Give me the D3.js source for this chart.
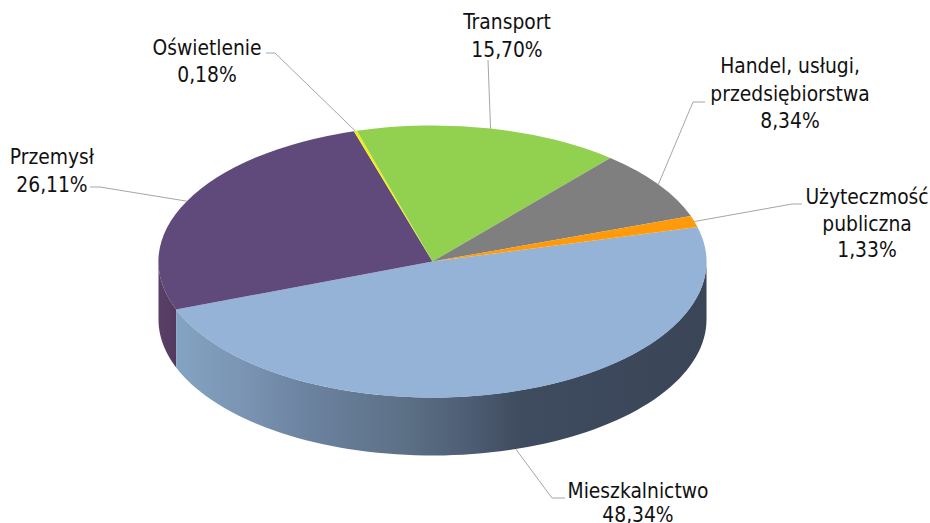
<!DOCTYPE html>
<html><head><meta charset="utf-8">
<script src="https://cdn.jsdelivr.net/npm/d3@7/dist/d3.min.js"></script>
<style>html,body{margin:0;padding:0;background:#fff;overflow:hidden}
text{font-family:"DejaVu Sans",sans-serif;font-size:20.8px;fill:#111;font-stretch:condensed}</style>
</head><body><svg id="c" width="930" height="523"></svg>
<script>
const categories=["Mieszkalnictwo","Przemysł","Oświetlenie","Transport","Handel, usługi, przedsiębiorstwa","Użyteczmość publiczna"];
const values=[48.34,26.11,0.18,15.70,8.34,1.33];
const valueLabels=["48,34%","26,11%","0,18%","15,70%","8,34%","1,33%"];
const labelLines=[["Mieszkalnictwo"],["Przemysł"],["Oświetlenie"],["Transport"],["Handel, usługi,","przedsiębiorstwa"],["Użyteczmość","publiczna"]];
const colors=["#95B3D7","#604A7B","#F2EC1A","#92D050","#7F7F7F","#FF9A0A"];
const wallColors=["#3B4759","#54395F"];
const startDeg=75.3;

const rad=d=>d*Math.PI/180;
const px=d3.scaleLinear().domain([-1,1]).range([158.5,706.5]);
const py=d3.scaleLinear().domain([-1,1]).range([125.5,397.5]);
const depth=58;
const svg=d3.select("#c");
const pie=d3.pie().sort(null).startAngle(rad(startDeg)).endAngle(rad(startDeg+360));
const arcs=pie(values);
const ptX=a=>px(Math.sin(a)), ptY=a=>py(-Math.cos(a));

const gradStops=[[176,"#84A3C2"],[240,"#7B95B4"],[310,"#6B829F"],[400,"#5D7187"],[470,"#4D5D74"],[520,"#3F4B5E"],[706,"#3A4658"]];
const defs=svg.append("defs");
const g=defs.append("linearGradient").attr("id","wall").attr("gradientUnits","userSpaceOnUse")
 .attr("x1",176).attr("x2",706).attr("y1",0).attr("y2",0);
g.selectAll("stop").data(gradStops).join("stop")
 .attr("offset",d=>(d[0]-176)/530).attr("stop-color",d=>d[1]);
const g2=defs.append("linearGradient").attr("id","wallP").attr("gradientUnits","userSpaceOnUse")
 .attr("x1",158).attr("x2",176).attr("y1",0).attr("y2",0);
g2.append("stop").attr("offset",0).attr("stop-color","#5A4068");
g2.append("stop").attr("offset",1).attr("stop-color",wallColors[1]);

const wallArea=d3.area().x(a=>ptX(a)).y0(a=>ptY(a)).y1(a=>ptY(a)+depth);
function wallRange(a0,a1,fill){
  const lo=Math.max(a0,Math.PI/2), hi=Math.min(a1,Math.PI*1.5);
  if(hi<=lo)return;
  const n=80, as=d3.range(n+1).map(i=>lo+(hi-lo)*i/n);
  svg.append("path").attr("d",wallArea(as)).attr("fill",fill);
}
wallRange(arcs[1].startAngle,arcs[1].endAngle,"url(#wallP)");
wallRange(arcs[0].startAngle,arcs[0].endAngle,"url(#wall)");

const arcGen=d3.arc().innerRadius(0).outerRadius(1);
const face=svg.append("g")
 .attr("transform",`translate(${px(0)},${py(0)}) scale(${px(1)-px(0)},${py(1)-py(0)})`);
face.selectAll("path").data(arcs).join("path").attr("d",arcGen).attr("fill",(d,i)=>colors[i]);

const layout=[
 {tx:638,ty:[498,522],bend:[552,498],end:[565,498],side:true},
 {tx:52,ty:[164,192],bend:[100,187],end:[90,187],side:false},
 {tx:207,ty:[55,82],bend:[275,53],end:[266,53],side:false},
 {tx:507,ty:[29,57],bend:[488,60],end:[488,60],side:false},
 {tx:790,ty:[73,101,128],bend:[693,102],end:[705,102],side:false},
 {tx:867,ty:[204,231,257],bend:[792,204],end:[802,204],side:false}
];
const line=d3.line();
arcs.forEach((d,i)=>{
  const m=(d.startAngle+d.endAngle)/2, L=layout[i];
  const s=[ptX(m),ptY(m)+(L.side?depth:0)];
  svg.append("path").attr("d",line([s,L.bend,L.end])).attr("fill","none").attr("stroke","#A6A6A6").attr("stroke-width",1);
  const t=svg.append("text").attr("text-anchor","middle");
  labelLines[i].concat(valueLabels[i]).forEach((str,k)=>{
    t.append("tspan").attr("x",L.tx).attr("y",L.ty[k]).text(str);
  });
});
</script></body></html>
